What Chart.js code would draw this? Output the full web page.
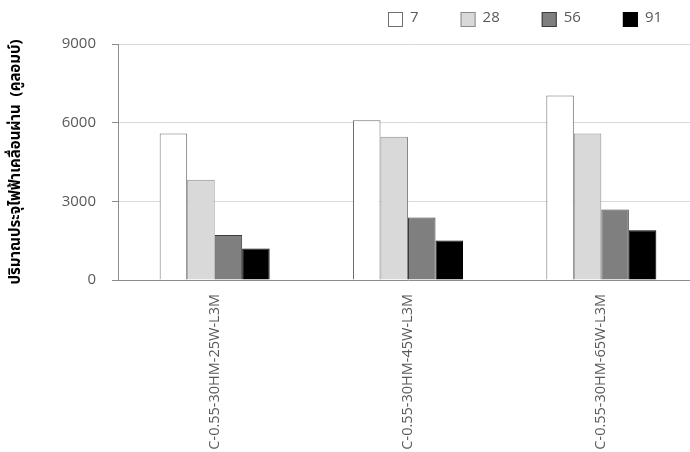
<!DOCTYPE html>
<html>
<head>
<meta charset="utf-8">
<script src="https://cdn.jsdelivr.net/npm/chart.js@4/dist/chart.umd.min.js"></script>
<style>
  html, body { margin: 0; padding: 0; background: #ffffff; overflow: hidden; width: 690px; height: 452px; }
  #wrap { width: 698px; height: 452px; }
</style>
</head>
<body>
<div id="wrap"><canvas id="chart" width="698" height="452"></canvas></div>
<script>
// Mix designs on the category axis
const categories = ['C-0.55-30HM-25W-L3M', 'C-0.55-30HM-45W-L3M', 'C-0.55-30HM-65W-L3M'];
// Curing ages (days), one series each
const ages = ['7', '28', '56', '91'];
// Charge passed (coulombs) per mix, by curing age
const day7  = [5590, 6090, 7040];
const day28 = [3820, 5460, 5590];
const day56 = [1720, 2380, 2690];
const day91 = [1200, 1510, 1900];
// Value axis ticks
const yTicks = [0, 3000, 6000, 9000];
const yTitle = 'ปริมาณประจุไฟฟ้าเคลื่อนผ่าน  (คูลอมบ์)';

const fills   = ['#ffffff', '#d9d9d9', '#7f7f7f', '#000000'];
const borders = ['#6f6f6f', '#8a8a8a', '#3c3c3c', '#000000'];
const series  = [day7, day28, day56, day91];

const uiFont = '"Open Sans", "Liberation Sans", sans-serif';
const tickGrey = '#595959';
const axisGrey = '#8c8c8c';

// Legend row across the top, drawn on the chart canvas
const topLegend = {
  id: 'topLegend',
  afterDraw(chart) {
    const ctx = chart.ctx;
    const size = 15, gap = 7, spacing = 42;
    const top = 12, midY = 18;
    let x = 388;
    ctx.save();
    ctx.font = '15px ' + uiFont;
    ctx.textBaseline = 'middle';
    ctx.textAlign = 'left';
    chart.data.datasets.forEach(ds => {
      ctx.fillStyle = ds.backgroundColor;
      ctx.fillRect(x, top, size, size);
      ctx.lineWidth = 1;
      ctx.strokeStyle = ds.borderColor;
      ctx.strokeRect(x + 0.5, top + 0.5, size - 1, size - 1);
      ctx.fillStyle = tickGrey;
      const tx = x + size + gap;
      ctx.fillText(ds.label, tx, midY);
      x = tx + ctx.measureText(ds.label).width + spacing;
    });
    ctx.restore();
  }
};

new Chart(document.getElementById('chart'), {
  type: 'bar',
  data: {
    labels: categories,
    datasets: ages.map((a, i) => ({
      label: a,
      data: series[i],
      backgroundColor: fills[i],
      borderColor: borders[i],
      borderWidth: 1,
      barPercentage: 1.0,
      categoryPercentage: 0.569
    }))
  },
  options: {
    responsive: false,
    animation: false,
    devicePixelRatio: 1,
    layout: { padding: { top: 44, right: 0, bottom: 0, left: 0 } },
    plugins: {
      legend: { display: false },
      tooltip: { enabled: false }
    },
    scales: {
      x: {
        grid: { display: false, drawTicks: false, tickLength: 0 },
        border: { display: true, color: axisGrey, width: 1 },
        ticks: {
          color: tickGrey,
          font: { family: uiFont, size: 14.5 },
          minRotation: 90,
          maxRotation: 90,
          padding: 14,
          autoSkip: false
        },
        afterFit(scale) { scale.height = 172; }
      },
      y: {
        min: 0,
        max: 9000,
        afterBuildTicks(scale) { scale.ticks = yTicks.map(v => ({ value: v })); },
        grid: { color: '#d9d9d9', lineWidth: 1, drawTicks: true, tickLength: 6, tickColor: axisGrey },
        border: { display: true, color: axisGrey, width: 1 },
        ticks: {
          color: tickGrey,
          font: { family: uiFont, size: 15 },
          padding: 16,
          callback: v => String(v)
        },
        title: {
          display: true,
          text: yTitle,
          color: '#000000',
          font: { family: '"Noto Sans Thai", "Noto Sans", "DejaVu Sans", sans-serif', size: 15, weight: 'bold' },
          padding: { top: 8, bottom: 0 }
        },
        afterFit(scale) { scale.width = 118; }
      }
    }
  },
  plugins: [topLegend]
});
</script>
</body>
</html>
